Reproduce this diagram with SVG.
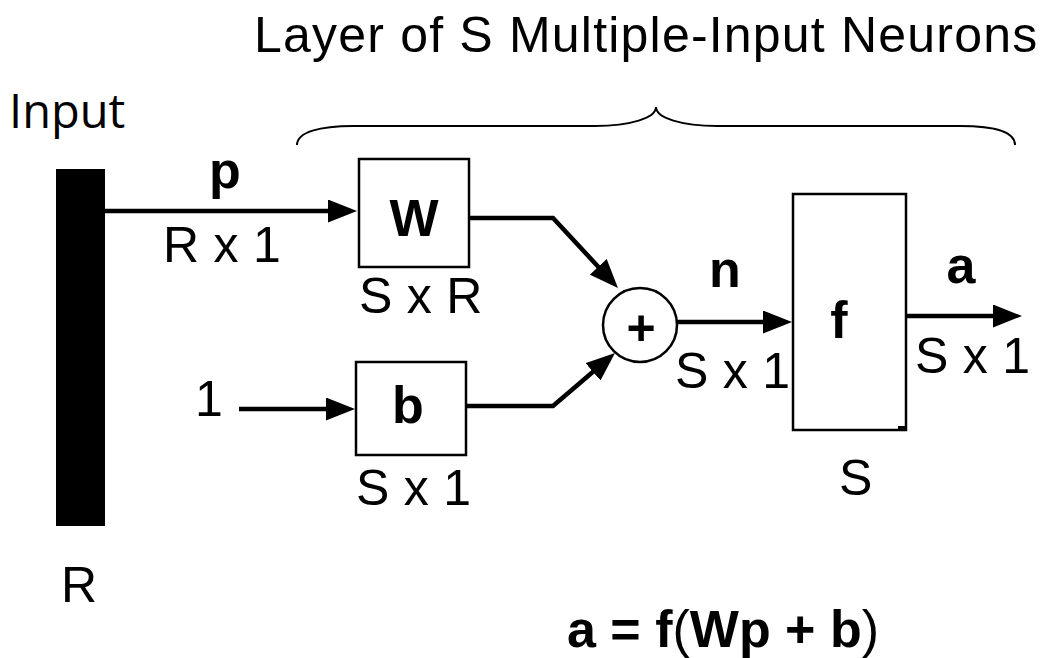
<svg xmlns="http://www.w3.org/2000/svg" width="1048" height="658" viewBox="0 0 1048 658">
<style>
  .t { font-family: "Liberation Sans", Arial, sans-serif; font-size: 50px; fill: #000; letter-spacing: 0.3px; }
  .b { font-family: "Liberation Sans", Arial, sans-serif; font-size: 52px; font-weight: bold; fill: #000; }
  .box { fill: #fff; stroke: #000; stroke-width: 2.5; }
  .conn { fill: none; stroke: #000; stroke-width: 4.5; }
</style>
<defs>
  <marker id="ah" viewBox="0 0 29 23" refX="2" refY="11.5" markerWidth="29" markerHeight="23" markerUnits="userSpaceOnUse" orient="auto">
    <path d="M0,0 L29,11.5 L0,23 z" fill="#000"/>
  </marker>
</defs>
<rect width="1048" height="658" fill="#fff"/>

<text id="title" class="t" x="254" y="52" style="font-size:50px;letter-spacing:1.2px">Layer of S Multiple-Input Neurons</text>
<path id="brace" d="M297,145 C297,132 320,126 353,126 L595,126 C630,126 656,118 656,107 C656,118 682,126 717,126 L960,126 C995,126 1015,132 1015,145" fill="none" stroke="#000" stroke-width="2"/>

<g id="input">
  <text x="9" y="128" style="font-family:'Open Sans','Liberation Sans',sans-serif;font-size:47px">Input</text>
  <rect x="56" y="169" width="49" height="357" fill="#000"/>
  <text class="t" x="61" y="602">R</text>
</g>

<g id="connectors">
  <line class="conn" x1="105" y1="211" x2="330" y2="211" marker-end="url(#ah)"/>
  <line class="conn" x1="239" y1="409" x2="328" y2="409" marker-end="url(#ah)"/>
  <polyline class="conn" points="469,218 553,218 599.6,268.2" marker-end="url(#ah)"/>
  <polyline class="conn" points="466,406 553,406 594.5,370.5" marker-end="url(#ah)"/>
  <line class="conn" x1="677" y1="322" x2="765" y2="322" marker-end="url(#ah)"/>
  <line class="conn" x1="906" y1="316" x2="995" y2="316" marker-end="url(#ah)"/>
</g>

<g id="labels">
  <text class="b" x="209" y="188">p</text>
  <text class="t" x="163" y="262">R x 1</text>
  <text class="t" x="195" y="416">1</text>
  <text class="b" x="725" y="287" text-anchor="middle">n</text>
  <text class="t" x="675" y="388">S x 1</text>
  <text class="b" x="961" y="283" text-anchor="middle">a</text>
  <text class="t" x="915" y="373">S x 1</text>
</g>

<g id="W">
  <rect class="box" x="359" y="159" width="110" height="108"/>
  <text class="b" x="414" y="236" text-anchor="middle">W</text>
  <text class="t" x="359" y="313">S x R</text>
</g>

<g id="b">
  <rect class="box" x="356" y="362" width="110" height="93"/>
  <text class="b" x="408" y="423" text-anchor="middle">b</text>
  <text class="t" x="356" y="505">S x 1</text>
</g>

<g id="sum">
  <circle cx="640" cy="325" r="37" fill="#fff" stroke="#000" stroke-width="2.5"/>
  <text class="b" x="641" y="345" text-anchor="middle" style="font-size:50px">+</text>
</g>

<g id="f">
  <rect class="box" x="793" y="194" width="113" height="236"/>
  <rect x="898" y="426" width="7" height="3" fill="#000"/>
  <text class="b" x="839" y="338" text-anchor="middle">f</text>
  <text class="t" x="839" y="495">S</text>
</g>

<text id="equation" class="b" x="567" y="647" style="font-size:52px"><tspan>a = f</tspan><tspan font-weight="normal">(</tspan><tspan>Wp + b</tspan><tspan font-weight="normal">)</tspan></text>
</svg>
